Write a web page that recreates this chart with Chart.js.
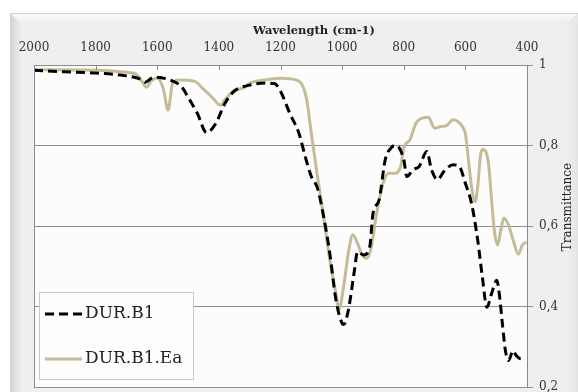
<!DOCTYPE html>
<html>
<head>
<meta charset="utf-8">
<script src="https://cdn.jsdelivr.net/npm/chart.js@4/dist/chart.umd.min.js"></script>
<style>
html,body{margin:0;padding:0;background:#ffffff;}
#wrap{width:578px;height:392px;}
</style>
</head>
<body>
<div id="wrap"><canvas id="c" width="578" height="392"></canvas></div>
<script>
const seriesNames = ['DUR.B1', 'DUR.B1.Ea'];
const wnB1 = [2000,1900,1800,1700,1650,1640,1610,1560,1520,1500,1470,1440,1410,1380,1350,1300,1250,1220,1200,1170,1140,1120,1100,1080,1060,1040,1020,1000,995,980,960,950,930,910,900,880,860,840,825,800,790,770,750,725,710,690,670,640,620,600,580,560,545,530,515,498,490,480,470,460,445,435,420,405];
const tB1 = [0.987,0.983,0.980,0.973,0.963,0.957,0.970,0.963,0.945,0.920,0.880,0.832,0.855,0.905,0.935,0.950,0.955,0.954,0.935,0.880,0.830,0.773,0.723,0.694,0.623,0.532,0.416,0.358,0.355,0.390,0.490,0.536,0.528,0.550,0.630,0.665,0.765,0.795,0.800,0.765,0.723,0.740,0.748,0.785,0.740,0.715,0.735,0.752,0.748,0.706,0.656,0.565,0.474,0.398,0.432,0.465,0.432,0.358,0.290,0.266,0.290,0.278,0.270,0.270];
const wnEa = [2000,1800,1700,1670,1650,1635,1620,1600,1580,1565,1550,1530,1480,1450,1420,1395,1380,1350,1320,1300,1250,1200,1150,1130,1115,1100,1080,1060,1040,1020,1010,995,980,965,950,935,920,905,890,870,850,830,810,800,780,760,740,720,700,680,660,640,625,610,600,590,580,568,560,550,543,525,515,505,495,485,475,460,445,428,415,402];
const tEa = [0.988,0.987,0.982,0.978,0.960,0.945,0.960,0.968,0.940,0.888,0.955,0.963,0.960,0.940,0.918,0.900,0.914,0.937,0.943,0.955,0.963,0.967,0.963,0.951,0.914,0.830,0.723,0.623,0.515,0.432,0.393,0.450,0.532,0.578,0.557,0.528,0.520,0.548,0.623,0.698,0.731,0.731,0.748,0.794,0.814,0.856,0.868,0.870,0.843,0.847,0.850,0.864,0.860,0.847,0.830,0.764,0.698,0.660,0.698,0.780,0.790,0.756,0.665,0.582,0.553,0.590,0.620,0.602,0.565,0.530,0.553,0.560];
const xTicks = [2000,1800,1600,1400,1200,1000,800,600,400];
const yTicks = [1,0.8,0.6,0.4,0.2];
const xTitle = 'Wavelength (cm-1)';
const yTitle = 'Transmittance';

const toPts = (xs, ys) => xs.map((x, i) => ({x: x, y: ys[i]}));
const SERIF = '"DejaVu Serif", "Liberation Serif", serif';

const framePlugin = {
  id: 'frame',
  beforeDraw(chart) {
    const ctx = chart.ctx;
    const a = chart.chartArea;
    ctx.save();
    ctx.fillStyle = '#e8e8e8';
    ctx.fillRect(10, 13, 568, 379);
    let g = ctx.createLinearGradient(0, 13, 0, 24);
    g.addColorStop(0, '#fafafa');
    g.addColorStop(1, '#ededed');
    ctx.fillStyle = g;
    ctx.beginPath();
    ctx.moveTo(10, 13); ctx.lineTo(578, 13); ctx.lineTo(566, 24); ctx.lineTo(21, 24); ctx.closePath();
    ctx.fill();
    g = ctx.createLinearGradient(10, 0, 21, 0);
    g.addColorStop(0, '#d4d4d4');
    g.addColorStop(1, '#ececec');
    ctx.fillStyle = g;
    ctx.beginPath();
    ctx.moveTo(10, 13); ctx.lineTo(21, 24); ctx.lineTo(21, 392); ctx.lineTo(10, 392); ctx.closePath();
    ctx.fill();
    ctx.fillStyle = '#efefef';
    ctx.fillRect(21, 24, 545, 368);
    g = ctx.createLinearGradient(566, 0, 578, 0);
    g.addColorStop(0, '#efefef');
    g.addColorStop(1, '#e4e4e4');
    ctx.fillStyle = g;
    ctx.fillRect(566, 24, 12, 368);
    ctx.strokeStyle = '#d2d2d2';
    ctx.lineWidth = 1;
    ctx.strokeRect(10.5, 13.5, 570, 380);
    ctx.fillStyle = '#fcfcfc';
    ctx.fillRect(a.left, a.top, a.right - a.left, a.bottom - a.top);
    ctx.restore();
  },
  afterDatasetsDraw(chart) {
    const ctx = chart.ctx;
    const a = chart.chartArea;
    const xs = chart.scales.x;
    ctx.save();
    ctx.strokeStyle = '#8a8a8a';
    ctx.lineWidth = 1;
    ctx.beginPath();
    ctx.moveTo(Math.round(a.left) + 0.5, a.top);
    ctx.lineTo(Math.round(a.left) + 0.5, a.bottom);
    ctx.stroke();
    xTicks.forEach(v => {
      const px = Math.round(xs.getPixelForValue(v)) + 0.5;
      ctx.beginPath();
      ctx.moveTo(px, a.top);
      ctx.lineTo(px, a.top + 5);
      ctx.stroke();
    });
    ctx.fillStyle = '#222222';
    ctx.font = 'bold 11.5px ' + SERIF;
    ctx.textAlign = 'center';
    ctx.textBaseline = 'middle';
    ctx.fillText(xTitle, 314, 31);
    ctx.font = '12px ' + SERIF;
    ctx.translate(568, 207);
    ctx.rotate(-Math.PI / 2);
    ctx.fillText(yTitle, 0, 0);
    ctx.restore();

    ctx.save();
    const lx = 39.5, ly = 292.5, lw = 154, lh = 87;
    ctx.fillStyle = '#fdfdfd';
    ctx.fillRect(lx, ly, lw, lh);
    ctx.strokeStyle = '#c9c9c9';
    ctx.lineWidth = 1;
    ctx.strokeRect(lx, ly, lw, lh);
    const rows = [314, 359];
    chart.data.datasets.forEach((ds, i) => {
      const y = rows[i];
      ctx.strokeStyle = ds.borderColor;
      ctx.lineWidth = ds.borderWidth;
      ctx.setLineDash(ds.borderDash || []);
      ctx.beginPath();
      ctx.moveTo(45, y);
      ctx.lineTo(82, y);
      ctx.stroke();
      ctx.setLineDash([]);
      ctx.fillStyle = '#222222';
      ctx.font = '17px ' + SERIF;
      ctx.textAlign = 'left';
      ctx.textBaseline = 'middle';
      ctx.fillText(ds.label, 85, y);
    });
    ctx.restore();
  }
};

new Chart(document.getElementById('c'), {
  type: 'line',
  data: {
    datasets: [
      {
        label: seriesNames[0],
        data: toPts(wnB1, tB1),
        borderColor: '#000000',
        borderWidth: 3,
        borderDash: [9, 5],
        pointRadius: 0,
        fill: false,
        cubicInterpolationMode: 'monotone'
      },
      {
        label: seriesNames[1],
        data: toPts(wnEa, tEa),
        borderColor: '#c4bc96',
        borderWidth: 3,
        pointRadius: 0,
        fill: false,
        cubicInterpolationMode: 'monotone'
      }
    ]
  },
  options: {
    responsive: false,
    animation: false,
    devicePixelRatio: 1,
    layout: { padding: { left: 34, right: 0, top: 0, bottom: 5 } },
    plugins: { legend: { display: false }, tooltip: { enabled: false }, title: { display: false } },
    scales: {
      x: {
        type: 'linear',
        position: 'top',
        reverse: true,
        min: 400,
        max: 2000,
        afterFit(s) { s.height = 65; s.paddingLeft = 0; s.paddingRight = 0; },
        afterBuildTicks(s) { s.ticks = xTicks.map(v => ({ value: v })); },
        ticks: {
          color: '#333333',
          font: { family: SERIF, size: 12 },
          padding: 10,
          maxRotation: 0,
          autoSkip: false,
          callback: v => String(v)
        },
        grid: { drawOnChartArea: false, drawTicks: false },
        border: { display: true, color: '#8a8a8a', width: 1 }
      },
      y: {
        type: 'linear',
        position: 'right',
        min: 0.2,
        max: 1,
        afterFit(s) { s.width = 51; s.paddingTop = 0; s.paddingBottom = 0; },
        afterBuildTicks(s) { s.ticks = yTicks.map(v => ({ value: v })); },
        ticks: {
          color: '#333333',
          font: { family: SERIF, size: 12 },
          padding: 6,
          callback: v => (Math.abs(v - 1) < 1e-9 ? '1' : v.toFixed(1).replace('.', ','))
        },
        grid: { color: '#8f8f8f', lineWidth: 1, drawTicks: true, tickLength: 6 },
        border: { display: true, color: '#8a8a8a', width: 1 }
      }
    }
  },
  plugins: [framePlugin]
});
</script>
</body>
</html>
